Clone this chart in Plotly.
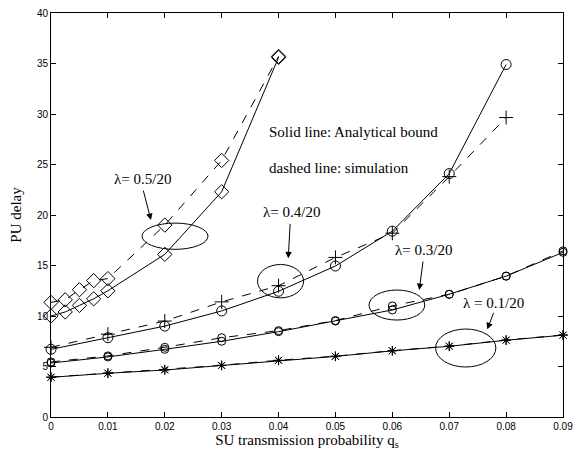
import plotly.graph_objects as go

# ---- data ----
x_dense = [0, 0.0025, 0.005, 0.0075, 0.01, 0.02, 0.03, 0.04]
x_04 = [0, 0.01, 0.02, 0.03, 0.04, 0.05, 0.06, 0.07, 0.08]
x_full = [0, 0.01, 0.02, 0.03, 0.04, 0.05, 0.06, 0.07, 0.08, 0.09]

l05_analytic = [10.0, 10.4, 11.05, 11.7, 12.5, 16.1, 22.3, 35.6]
l05_sim = [11.35, 11.6, 12.6, 13.5, 13.7, 19.0, 25.4, 35.7]

l04_analytic = [6.7, 7.85, 9.0, 10.5, 12.45, 14.95, 18.4, 24.1, 34.9]
l04_sim = [6.9, 8.2, 9.5, 11.4, 13.0, 15.8, 18.2, 23.8, 29.65]

l03_analytic = [5.35, 5.95, 6.7, 7.5, 8.45, 9.5, 10.6, 12.15, 13.95, 16.3]
l03_sim = [5.45, 6.05, 6.9, 7.85, 8.55, 9.55, 11.0, 12.15, 13.95, 16.45]

l01_analytic = [3.93, 4.33, 4.65, 5.1, 5.6, 6.0, 6.55, 7.0, 7.6, 8.1]
l01_sim = [3.95, 4.35, 4.7, 5.12, 5.62, 6.02, 6.57, 7.02, 7.62, 8.12]

x_ticks = [0, 0.01, 0.02, 0.03, 0.04, 0.05, 0.06, 0.07, 0.08, 0.09]
x_tick_labels = ["0", "0.01", "0.02", "0.03", "0.04", "0.05", "0.06", "0.07", "0.08", "0.09"]
y_ticks = [0, 5, 10, 15, 20, 25, 30, 35, 40]

fig = go.Figure()

def add(x, y, symbol, size, dash):
    fig.add_trace(go.Scatter(
        x=x, y=y, mode="lines+markers",
        line=dict(color="black", width=1, dash=dash),
        marker=dict(symbol=symbol, size=size, color="black",
                    line=dict(color="black", width=1)),
        showlegend=False, cliponaxis=False))

add(x_dense, l05_analytic, "diamond-open", 11, "solid")
add(x_dense, l05_sim, "diamond-open", 11, "dash")
add(x_04, l04_analytic, "circle-open", 10, "solid")
add(x_04, l04_sim, "cross-thin-open", 10, "dash")
add(x_full, l03_analytic, "circle-open", 8, "solid")
add(x_full, l03_sim, "circle-open", 8, "dash")
add(x_full, l01_analytic, "asterisk-open", 8, "solid")
add(x_full, l01_sim, "asterisk-open", 8, "dash")

serif = "Liberation Serif, Times New Roman, serif"
sans = "Liberation Sans, Arial, sans-serif"

# ellipses
ellipses = [
    (0.0160, 16.6, 0.0276, 19.2),
    (0.0363, 11.8, 0.0444, 15.1),
    (0.0559, 9.6, 0.0657, 12.57),
    (0.0676, 4.95, 0.0782, 8.71),
]
for x0, y0, x1, y1 in ellipses:
    fig.add_shape(type="circle", xref="x", yref="y", x0=x0, y0=y0, x1=x1, y1=y1,
                  line=dict(color="black", width=1))

# arrows
arrows = [
    (0.01757, 19.5, -8, -31),
    (0.0417, 15.71, 2, -36),
    (0.06473, 12.57, 4, -30),
    (0.07668, 8.68, 7, -18),
]
for x, y, ax, ay in arrows:
    fig.add_annotation(x=x, y=y, ax=ax, ay=ay, text="", showarrow=True,
                       arrowhead=2, arrowsize=1.3, arrowwidth=1, arrowcolor="black")

labels = [
    (0.0160, 23.56, "λ= 0.5/20"),
    (0.0423, 20.33, "λ= 0.4/20"),
    (0.06544, 16.53, "λ= 0.3/20"),
    (0.07786, 11.32, "λ = 0.1/20"),
]
for x, y, t in labels:
    fig.add_annotation(x=x, y=y, text=t, showarrow=False,
                       font=dict(family=serif, size=15, color="black"))

fig.add_annotation(x=0.0379, y=28.25, text="Solid line: Analytical bound", showarrow=False,
                   xanchor="left", font=dict(family=serif, size=15, color="black"))
fig.add_annotation(x=0.0379, y=24.68, text="dashed line: simulation", showarrow=False,
                   xanchor="left", font=dict(family=serif, size=15, color="black"))

# page body has an 8px default margin; figure sized to fit the window
fig.update_layout(
    width=578, height=444,
    margin=dict(l=43, r=23, t=5, b=35),
    paper_bgcolor="white", plot_bgcolor="white",
    font=dict(family=sans, size=10, color="black"),
    xaxis=dict(range=[0, 0.09], tickvals=x_ticks, ticktext=x_tick_labels,
               showgrid=False, zeroline=False, showline=True, linecolor="black",
               linewidth=1, mirror="ticks", ticks="inside", ticklen=5,
               tickcolor="black", tickfont=dict(family=sans, size=10),
               automargin=False, ticklabeloverflow="allow",
               title=dict(text="SU transmission probability q<sub>s</sub>",
                          font=dict(family=serif, size=15), standoff=0)),
    yaxis=dict(range=[0, 40], tickvals=y_ticks,
               showgrid=False, zeroline=False, showline=True, linecolor="black",
               linewidth=1, mirror="ticks", ticks="inside", ticklen=5,
               tickcolor="black", tickfont=dict(family=sans, size=10),
               automargin=False, ticklabeloverflow="allow",
               title=dict(text="PU delay", font=dict(family=serif, size=15), standoff=12)),
)

fig.write_html("out.html")
